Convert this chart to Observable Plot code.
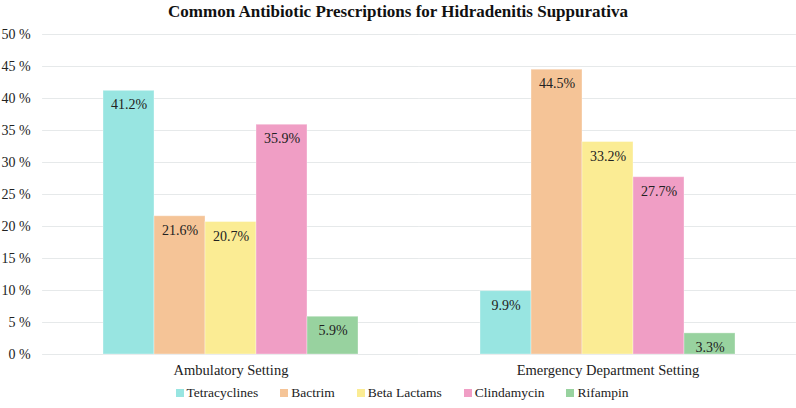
<!DOCTYPE html>
<html>
<head>
<meta charset="utf-8">
<script src="https://cdn.jsdelivr.net/npm/d3@7"></script>
<script src="https://cdn.jsdelivr.net/npm/@observablehq/plot@0.6"></script>
<style>
  html, body { margin: 0; padding: 0; background: #fff; }
  body { width: 796px; height: 408px; overflow: hidden; font-family: "Liberation Serif", "Times New Roman", serif; }
  #title { height: 24px; line-height: 24px; text-align: center; font-weight: bold; font-size: 17px; color: #111; }
  #legend { height: 18px; display: flex; justify-content: center; align-items: center; font-size: 13.5px; color: #222; padding-left: 8px; }
  #legend .item { display: flex; align-items: center; margin: 0 11px; }
  #legend .sw { width: 8px; height: 8px; margin-right: 3px; }
  svg { display: block; }
  svg, svg text { font-family: "Liberation Serif", "Times New Roman", serif !important; }
</style>
</head>
<body>
<div id="title">Common Antibiotic Prescriptions for Hidradenitis Suppurativa</div>
<div id="chart"></div>
<div id="legend"></div>
<script>
const settings = ["Ambulatory Setting", "Emergency Department Setting"];
const drugs = ["Tetracyclines", "Bactrim", "Beta Lactams", "Clindamycin", "Rifampin"];
const ambulatory = [41.2, 21.6, 20.7, 35.9, 5.9];
const emergency = [9.9, 44.5, 33.2, 27.7, 3.3];
const colors = ["#98e5e1", "#f5c497", "#fbec94", "#f09ec5", "#98d29f"];
const yTicks = [0, 5, 10, 15, 20, 25, 30, 35, 40, 45, 50];

const rows = [];
settings.forEach((s, si) => {
  const vals = si === 0 ? ambulatory : emergency;
  drugs.forEach((d, di) => rows.push({setting: s, drug: d, value: vals[di]}));
});

const W = 796, mL = 42, mR = 0;
const pIn = 0.323, pOut = 0.1615;
const step = (W - mL - mR) / (settings.length - pIn + 2 * pOut);
const ext = pOut * step; // distance from a group's edge to the plot edge / mid-gap

const chart = Plot.plot({
  width: W,
  height: 360,
  marginLeft: mL,
  marginRight: mR,
  marginTop: 10,
  marginBottom: 30,
  style: {fontSize: "14px", color: "#222", background: "#fff"},
  fx: {domain: settings, paddingInner: pIn, paddingOuter: pOut, label: null, axis: null},
  x: {domain: drugs, padding: 0, axis: null},
  y: {domain: [0, 50], label: null},
  color: {domain: drugs, range: colors},
  marks: [
    Plot.ruleY(yTicks, {stroke: "#e6e9ea", insetLeft: -ext, insetRight: -ext}),
    Plot.axisY(yTicks, {tickSize: 0, tickPadding: 12, dx: -ext, tickFormat: d => d + " %", fontSize: "14px", label: null}),
    Plot.barY(rows, {fx: "setting", x: "drug", y: "value", fill: "drug", stroke: "#ffffff", strokeOpacity: 0.35, strokeWidth: 1}),
    Plot.text(rows, {fx: "setting", x: "drug", y: "value", text: d => d.value.toFixed(1) + "%", dy: 14, fill: "#222", fontSize: 14}),
    Plot.axisFx({anchor: "bottom", tickSize: 0, tickPadding: 10, fontSize: "14.5px", label: null})
  ]
});
document.getElementById("chart").appendChild(chart);

const legend = document.getElementById("legend");
drugs.forEach((d, i) => {
  const it = document.createElement("div");
  it.className = "item";
  const sw = document.createElement("span");
  sw.className = "sw";
  sw.style.background = colors[i];
  const tx = document.createElement("span");
  tx.textContent = d;
  it.appendChild(sw);
  it.appendChild(tx);
  legend.appendChild(it);
});
</script>
</body>
</html>
